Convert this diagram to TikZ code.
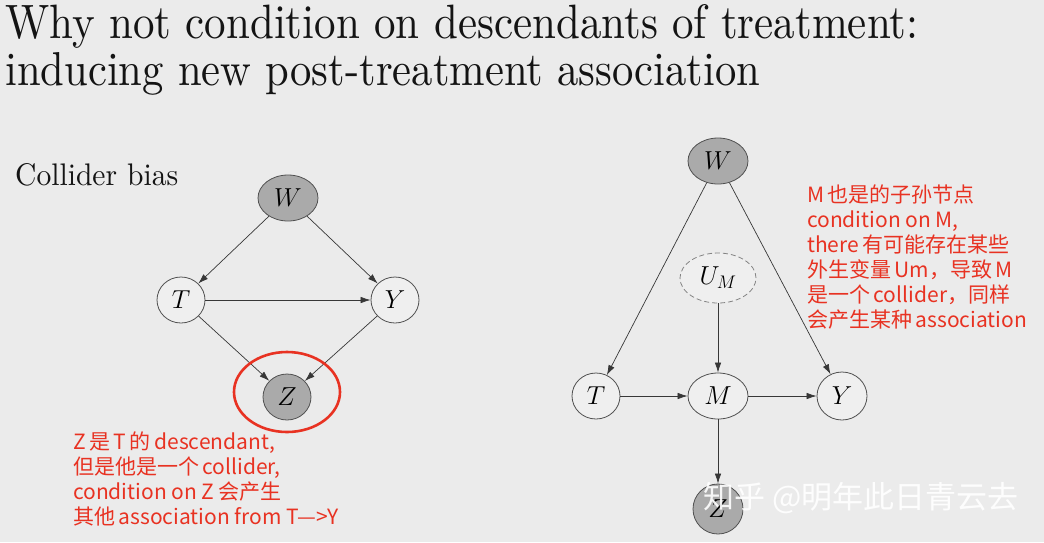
\RequirePackage{fix-cm}
\documentclass[tikz,border=0pt]{standalone}
\usepackage{fontspec}
\usetikzlibrary{arrows.meta,shapes.geometric}
\newfontfamily\cjk{Noto Sans CJK SC}
\definecolor{bg}{RGB}{235,235,235}
\definecolor{nodegray}{RGB}{170,170,170}
\definecolor{nodewhite}{RGB}{239,239,239}
\definecolor{edgecol}{RGB}{55,55,55}
\definecolor{bordercol}{RGB}{80,80,80}
\definecolor{redtxt}{RGB}{232,50,34}
\definecolor{titlecol}{RGB}{20,20,20}
\tikzset{
  var/.style={ellipse, draw=bordercol, line width=0.8pt, fill=nodewhite, inner sep=0pt,
    minimum width=48pt, minimum height=46pt, font=\fontsize{26pt}{26pt}\selectfont},
  obs/.style={var, fill=nodegray},
  latent/.style={var, dashed, draw=bordercol!70, dash pattern=on 5pt off 3pt},
  arr/.style={draw=edgecol, line width=0.7pt, -{Latex[length=10pt,width=6.5pt]}},
  note/.style={anchor=base west, inner sep=0pt, text=redtxt, font=\cjk\fontsize{21pt}{25pt}\selectfont},
  ring/.style={ellipse, draw=redtxt, line width=2.6pt, inner sep=0pt},
}
\begin{document}
\begin{tikzpicture}[x=1pt,y=-1pt]
\fill[bg] (0,0) rectangle (1044,542);
\useasboundingbox (0,0) rectangle (1044,542);

% titles
\node[anchor=base west, inner sep=0pt, text=titlecol] (title1) at (5,38)
  {\resizebox{913pt}{34pt}{Why not condition on descendants of treatment:}};
\node[anchor=base west, inner sep=0pt, text=titlecol] (title2) at (5,85)
  {\resizebox{755pt}{33pt}{inducing new post-treatment association}};
\node[anchor=base west, inner sep=0pt, text=titlecol] (collider) at (15,185)
  {\resizebox{163pt}{22pt}{Collider bias}};

% left graph
\node[obs, minimum width=60pt] (W1) at (288,198) {$W$};
\node[var] (T1) at (181,300) {$T$};
\node[var] (Y1) at (395,300) {$Y$};
\node[obs] (Z1) at (287,397) {$Z$};
\draw[arr] (W1) -- (T1);
\draw[arr] (W1) -- (Y1);
\draw[arr] (T1) -- (Y1);
\draw[arr] (T1) -- (Z1);
\draw[arr] (Y1) -- (Z1);
\node[ring, minimum width=106pt, minimum height=80pt] (ring) at (287,392) {};

% left notes
\node[note] (n1) at (73,449) {Z\,是\,T\,的\,descendant,};
\node[note] (n2) at (73,474) {但是他是一个\,collider,};
\node[note] (n3) at (73,499) {condition on Z\,会产生};
\node[note] (n4) at (73,524) {其他\,association from T—>Y};

% right graph
\node[obs, minimum width=60pt] (W2) at (718,161) {$W$};
\node[latent, minimum width=76pt, minimum height=50pt] (U2) at (718,278) {$U_M$};
\node[var] (T2) at (596,396) {$T$};
\node[var, minimum width=60pt] (M2) at (718,396) {$M$};
\node[var, minimum width=50pt, minimum height=48pt] (Y2) at (842,396) {$Y$};
\node[obs, minimum width=50pt, minimum height=50pt] (Z2) at (718,509) {$Z$};
\draw[arr] (W2) -- (T2);
\draw[arr] (W2) -- (Y2);
\draw[arr] (U2) -- (M2);
\draw[arr] (T2) -- (M2);
\draw[arr] (M2) -- (Y2);
\draw[arr] (M2) -- (Z2);

% right notes
\node[note] (r1) at (807,202) {M\,也是的子孙节点};
\node[note] (r2) at (807,227) {condition on M,};
\node[note] (r3) at (807,252) {there\,有可能存在某些};
\node[note] (r4) at (807,277) {外生变量\,Um，导致\,M};
\node[note] (r5) at (807,302) {是一个\,collider，同样};
\node[note] (r6) at (807,327) {会产生某种\,association};

% watermark
\node[anchor=base west, inner sep=0pt, text=white, opacity=0.9,
  font=\cjk\fontsize{31pt}{31pt}\selectfont] (wm) at (703,508) {知乎 @明年此日青云去};
\end{tikzpicture}
\end{document}
